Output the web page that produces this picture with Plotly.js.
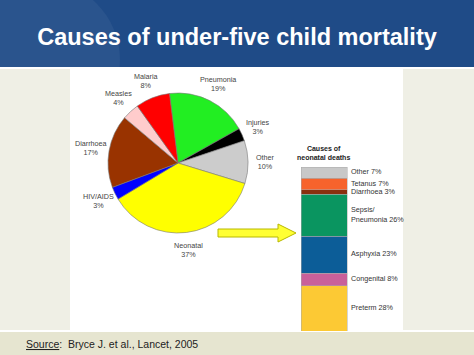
<!DOCTYPE html>
<html><head><meta charset="utf-8">
<script src="https://cdn.plot.ly/plotly-3.0.1.min.js"></script>
<style>html,body{margin:0;padding:0;background:#fff;}#chart{width:474px;height:355px;}</style>
</head><body><div id="chart"></div>
<script>
// Pie: causes of under-five deaths (clockwise from top)
var pieLabels = ['Pneumonia','Injuries','Other','Neonatal','HIV/AIDS','Diarrhoea','Measles','Malaria'];
var pieValues = [19, 3, 10, 37, 3, 17, 4, 8];
var pieColors = ['#22ee22','#000000','#cccccc','#ffff00','#0000ff','#993300','#ffcccc','#ff0000'];

// Stacked bar: causes of neonatal deaths (bottom to top)
var neoLabels = ['Preterm','Congenital','Asphyxia','Sepsis/<br>Pneumonia','Diarrhoea','Tetanus','Other'];
var neoValues = [28, 8, 23, 26, 3, 7, 7];
var neoColors = ['#fcc934','#c9609a','#0c5d98','#0a9560','#8a2f0f','#f7632c','#c8c8c8'];

var W = 474, H = 355;
function px(x){return x/W;}
function py(y){return 1 - y/H;}

var FONT = '"Liberation Sans", Arial, sans-serif';
var ROT = -7;              // start angle of first slice (deg, clockwise from 12 o'clock)
var PCX = 178, PCY = 163, PR = 70, LABR = 88;   // pie geometry in px

var traces = [];
traces.push({
  type:'pie', labels:pieLabels, values:pieValues, sort:false, direction:'clockwise',
  rotation:ROT, marker:{colors:pieColors, line:{color:'#777', width:0.6}},
  textinfo:'none',
  domain:{x:[px(PCX-PR), px(PCX+PR)], y:[py(PCY+PR), py(PCY-PR)]},
  showlegend:false, hoverinfo:'label+value', automargin:false
});

// pie labels placed radially at each slice's mid angle
var annotations = [];
var total = pieValues.reduce(function(a,b){return a+b;},0);
var acc = 0;
for (var k=0;k<pieValues.length;k++){
  var mid = ROT + (acc + pieValues[k]/2)/total*360;
  acc += pieValues[k];
  var a = mid*Math.PI/180;
  annotations.push({xref:'paper', yref:'paper', x:px(PCX + LABR*Math.sin(a)), y:py(PCY - LABR*Math.cos(a)),
    text:pieLabels[k]+'<br>'+pieValues[k]+'%', showarrow:false, xanchor:'center', yanchor:'middle',
    font:{family:FONT, size:7.2, color:'#444'}});
}

var cum = 0, midY = [], txt = [];
for (var i=0;i<neoValues.length;i++){
  traces.push({type:'bar', x:[0], y:[neoValues[i]], width:1, xaxis:'x', yaxis:'y',
    marker:{color:neoColors[i], line:{color:'#aaa', width:0.5}}, showlegend:false,
    name:neoLabels[i], hoverinfo:'name+y'});
  midY.push(cum + neoValues[i]/2);
  cum += neoValues[i];
  txt.push(neoLabels[i] + ' ' + neoValues[i] + '%');
}
var barPxW = 46;
var xDomL = 301, xDomR = 440;
traces.push({type:'scatter', mode:'text', x:neoValues.map(function(){return 0.5 + 4/barPxW;}), y:midY,
  text:txt, textposition:'middle right', textfont:{family:FONT, size:7.2, color:'#333'},
  showlegend:false, hoverinfo:'skip', cliponaxis:false});

var shapes = [
  {type:'rect', xref:'paper', yref:'paper', x0:0, x1:1, y0:py(67), y1:1, fillcolor:'#1f4b87', line:{width:0}, layer:'below'},
  {type:'circle', xref:'paper', yref:'paper', x0:px(-40), x1:px(120), y0:py(140), y1:py(-20), fillcolor:'rgba(255,255,255,0.05)', line:{width:0}, layer:'below'},
  {type:'rect', xref:'paper', yref:'paper', x0:0, x1:px(70), y0:py(330), y1:py(69), fillcolor:'#efefe5', line:{width:0}, layer:'below'},
  {type:'rect', xref:'paper', yref:'paper', x0:px(403), x1:1, y0:py(330), y1:py(69), fillcolor:'#efefe5', line:{width:0}, layer:'below'},
  {type:'rect', xref:'paper', yref:'paper', x0:0, x1:1, y0:0, y1:py(332), fillcolor:'#e6e5d0', line:{width:0}, layer:'below'},
  {type:'path', xref:'paper', yref:'paper',
   path:'M'+px(218)+','+py(229)+' L'+px(278)+','+py(229)+' L'+px(278)+','+py(224)+' L'+px(296)+','+py(233)+' L'+px(278)+','+py(242)+' L'+px(278)+','+py(237)+' L'+px(218)+','+py(237)+' Z',
   fillcolor:'#ffff33', line:{color:'#b8b800', width:1}}
];

annotations.push(
  {xref:'paper', yref:'paper', x:px(323), y:py(153), text:'<b>Causes of<br>neonatal deaths</b>', showarrow:false,
   xanchor:'center', yanchor:'middle', font:{family:FONT, size:7, color:'#222'}},
  {xref:'paper', yref:'paper', x:px(24), y:py(344), text:'<u>Source</u>:  Bryce J. et al., Lancet, 2005', showarrow:false,
   xanchor:'left', yanchor:'middle', font:{family:FONT, size:10.5, color:'#222'}}
);

var layout = {
  width:W, height:H, margin:{l:0,r:0,t:0,b:0}, paper_bgcolor:'#ffffff', plot_bgcolor:'rgba(0,0,0,0)',
  barmode:'stack', showlegend:false,
  title:{text:'<b>Causes of under-five child mortality</b>', x:0.5, xanchor:'center', xref:'paper',
    y:py(37), yanchor:'middle', yref:'paper', font:{family:FONT, size:23.5, color:'#ffffff'}},
  xaxis:{domain:[px(xDomL), px(xDomR)], range:[-0.5, -0.5 + (xDomR-xDomL)/barPxW], visible:false, fixedrange:true},
  yaxis:{domain:[py(331), py(167)], range:[0, cum], visible:false, fixedrange:true},
  shapes:shapes,
  annotations:annotations
};
Plotly.newPlot('chart', traces, layout, {displayModeBar:false, staticPlot:true});
</script>
</body></html>
